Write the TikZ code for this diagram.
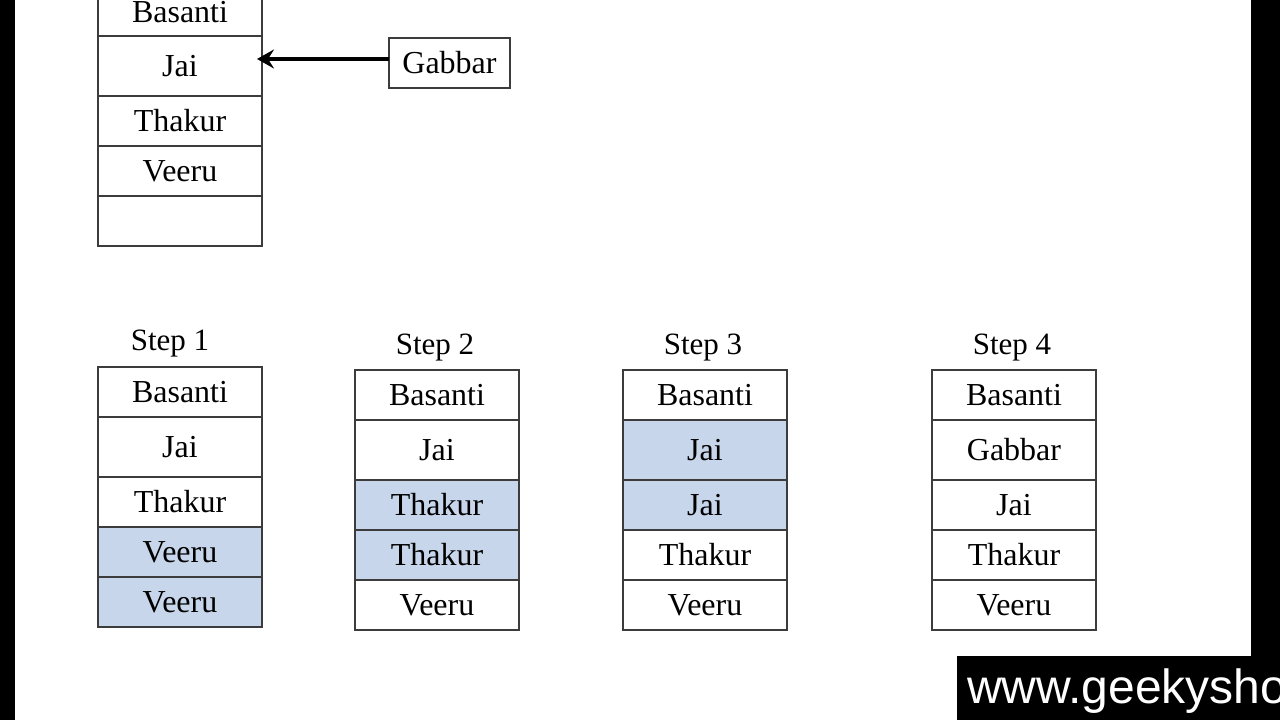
\documentclass[tikz,border=0pt]{standalone}
\usepackage{fontspec}
\setmainfont{Liberation Serif}
\newfontfamily\sitefont{Liberation Sans}
\usetikzlibrary{positioning}
\usetikzlibrary{arrows.meta}
\definecolor{cellline}{HTML}{3C3C3C}
\definecolor{shiftblue}{HTML}{C7D6EB}
\tikzset{
  cell/.style={draw=cellline, line width=1.2pt, fill=white, minimum width=164pt, minimum height=50pt, inner sep=0pt, outer sep=0pt, text height=21pt, text depth=0pt, font=\fontsize{32}{38}\selectfont},
  tallcell/.style={cell, minimum height=60pt},
  shifted/.style={fill=shiftblue},
  steplabel/.style={anchor=base, inner sep=0pt, font=\fontsize{31}{37}\selectfont},
  pointer/.style={line width=3.5pt, -{Stealth[length=17pt,width=19pt,inset=6pt]}, shorten >=-5pt},
}

\begin{document}
\begin{tikzpicture}[x=1pt,y=-1pt]
		\useasboundingbox (0,0) rectangle (1280,720);
		\clip (0,0) rectangle (1280,720);
		\fill[black] (0,0) rectangle (15,720);
		\fill[black] (1251,0) rectangle (1280,720);
		%
		\node[cell, minimum height=47pt, anchor=north west] (t1) at (98,-11) {Basanti};
		\node[tallcell, below=0pt of t1] (t2) {Jai};
		\node[cell, below=0pt of t2] (t3) {Thakur};
		\node[cell, below=0pt of t3] (t4) {Veeru};
		\node[cell, below=0pt of t4] (t5) {};
		\node[cell, minimum width=121pt] (gab) at (449.5,63) {Gabbar};
		\coordinate (gabtail) at ([yshift=4pt]gab.west);
		\draw[pointer] (gabtail) -- (gabtail -| t2.east);
		%
		\node[steplabel] (l1) at (170,350) {Step 1};
		\node[cell, anchor=north west] (a1) at (98,367) {Basanti};
		\node[tallcell, below=0pt of a1] (a2) {Jai};
		\node[cell, below=0pt of a2] (a3) {Thakur};
		\node[cell, shifted, below=0pt of a3] (a4) {Veeru};
		\node[cell, shifted, below=0pt of a4] (a5) {Veeru};
		%
		\node[steplabel] (l2) at (435,354) {Step 2};
		\node[cell, anchor=north west] (b1) at (355,370) {Basanti};
		\node[tallcell, below=0pt of b1] (b2) {Jai};
		\node[cell, shifted, below=0pt of b2] (b3) {Thakur};
		\node[cell, shifted, below=0pt of b3] (b4) {Thakur};
		\node[cell, below=0pt of b4] (b5) {Veeru};
		%
		\node[steplabel] (l3) at (703,354) {Step 3};
		\node[cell, anchor=north west] (c1) at (623,370) {Basanti};
		\node[tallcell, shifted, below=0pt of c1] (c2) {Jai};
		\node[cell, shifted, below=0pt of c2] (c3) {Jai};
		\node[cell, below=0pt of c3] (c4) {Thakur};
		\node[cell, below=0pt of c4] (c5) {Veeru};
		%
		\node[steplabel] (l4) at (1012,354) {Step 4};
		\node[cell, anchor=north west] (d1) at (932,370) {Basanti};
		\node[tallcell, below=0pt of d1] (d2) {Gabbar};
		\node[cell, below=0pt of d2] (d3) {Jai};
		\node[cell, below=0pt of d3] (d4) {Thakur};
		\node[cell, below=0pt of d4] (d5) {Veeru};
		%
		\fill[black] (957,656) rectangle (1280,720);
		\node[anchor=base west, inner sep=0pt, text=white, font=\sitefont\fontsize{48}{52}\selectfont] (site) at (967,703) {www.geekysho};
	\end{tikzpicture}
\end{document}
